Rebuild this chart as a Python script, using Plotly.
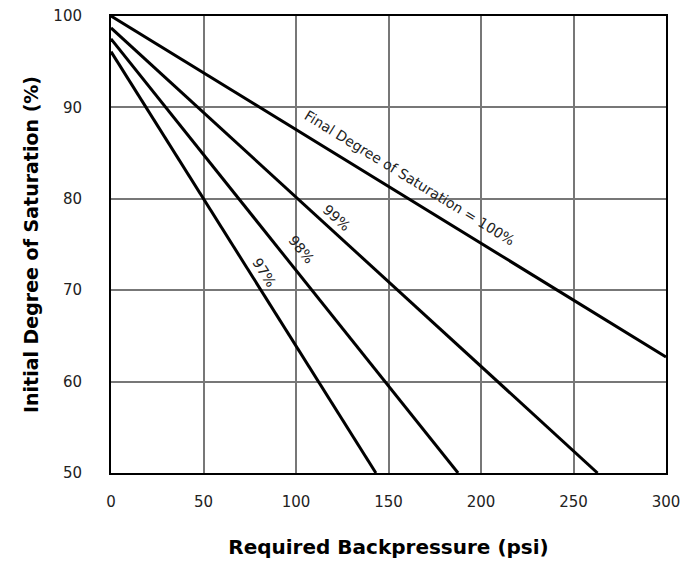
import plotly.graph_objects as go

# Data: each line defined by start and end points
final_sat = ["100%", "99%", "98%", "97%"]
x_start = [0, 0, 0, 0]
y_start = [100.0, 98.7, 97.5, 96.1]
x_end = [300, 263, 187.6, 143.2]
y_end = [62.7, 50, 50, 50]

label_text = ["Final Degree of Saturation = 100%", "99%", "98%", "97%"]
label_x = [161.6, 122, 102.7, 82.7]
label_y = [82.3, 77.9, 74.5, 72.0]
label_angle = [31.6, 42.4, 51.4, 57.8]

x_ticks = [0, 50, 100, 150, 200, 250, 300]
y_ticks = [50, 60, 70, 80, 90, 100]

FONT = "DejaVu Sans"

fig = go.Figure()
for i, name in enumerate(final_sat):
    fig.add_trace(go.Scatter(
        x=[x_start[i], x_end[i]], y=[y_start[i], y_end[i]],
        mode="lines", line=dict(color="black", width=3),
        name=name, showlegend=False, hoverinfo="skip", cliponaxis=True))

for t, x, y, a in zip(label_text, label_x, label_y, label_angle):
    fig.add_annotation(x=x, y=y, text=t, showarrow=False, textangle=a,
                       font=dict(family=FONT, size=14, color="#222"))

fig.update_xaxes(range=[0, 300], tickvals=x_ticks, showgrid=True, automargin=False,
                 gridcolor="#777", gridwidth=2, showline=True, linecolor="black",
                 linewidth=2, mirror=True, zeroline=False, ticks="",
                 ticklabelstandoff=14,
                 tickfont=dict(family=FONT, size=15, color="#222"),
                 title=dict(text="Required Backpressure (psi)", standoff=30,
                            font=dict(family=FONT, size=20, color="black", weight="bold")))
fig.update_yaxes(range=[50, 100], tickvals=y_ticks, showgrid=True, automargin=False,
                 gridcolor="#777", gridwidth=2, showline=True, linecolor="black",
                 linewidth=2, mirror=True, zeroline=False, ticks="",
                 ticklabelstandoff=24,
                 tickfont=dict(family=FONT, size=15, color="#222"),
                 title=dict(text="Initial Degree of Saturation (%)", standoff=10,
                            font=dict(family=FONT, size=19, color="black", weight="bold")))

fig.update_layout(width=682, height=565, margin=dict(l=111, r=16, t=16, b=92),
                  plot_bgcolor="white", paper_bgcolor="white")

fig.write_html("out.html", config={"displayModeBar": False},
               post_script="document.body.style.margin='0';document.body.style.overflow='hidden';")
